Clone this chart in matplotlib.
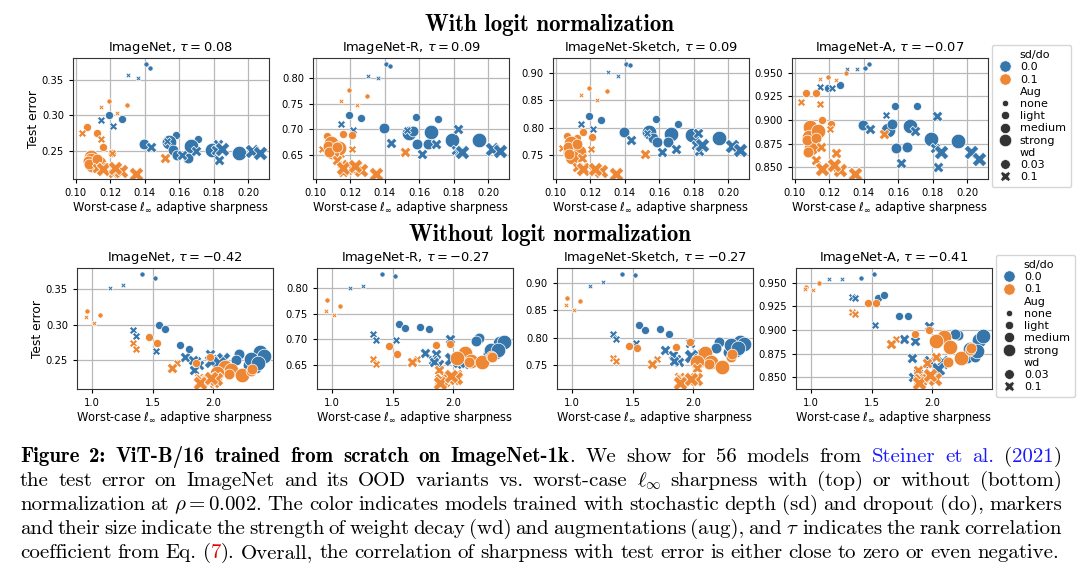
import matplotlib
matplotlib.use("Agg")
import matplotlib.pyplot as plt
from matplotlib.lines import Line2D

# one entry per model: stochastic depth/dropout, augmentation, weight decay
sd_do = ["0.0"] * 28 + ["0.1"] * 28
aug = ["none", "none", "none", "none", "light", "light", "light", "light",
       "medium", "medium", "light", "light", "strong", "medium", "medium", "strong",
       "medium", "medium", "medium", "strong", "medium", "medium", "medium", "strong",
       "strong", "strong", "strong", "light",
       "none", "none", "none", "none", "light", "light", "light", "light",
       "light", "light", "light", "medium", "strong", "strong", "strong", "strong",
       "medium", "medium", "medium", "medium", "medium", "medium", "medium", "medium",
       "strong", "strong", "strong", "strong"]
wd = [0.03, 0.03, 0.1, 0.1, 0.03, 0.03, 0.1, 0.1, 0.03, 0.1, 0.03, 0.03, 0.03, 0.03,
      0.03, 0.03, 0.03, 0.1, 0.1, 0.03, 0.1, 0.1, 0.1, 0.1, 0.03, 0.1, 0.1, 0.1,
      0.03, 0.03, 0.1, 0.1, 0.03, 0.1, 0.03, 0.1, 0.03, 0.03, 0.1, 0.1, 0.03, 0.03,
      0.03, 0.03, 0.03, 0.03, 0.03, 0.1, 0.1, 0.1, 0.1, 0.1, 0.1, 0.1, 0.1, 0.1]

# worst-case l_inf adaptive sharpness, with / without logit normalization
sharp_norm = [0.1405, 0.1430, 0.1305, 0.1360, 0.1190, 0.1265, 0.1145, 0.1218, 0.1393, 0.1436,
              0.1583, 0.1711, 0.1540, 0.1565, 0.1588, 0.1667, 0.1650, 0.1697, 0.1615, 0.1788,
              0.1825, 0.1815, 0.1830, 0.1850, 0.1950, 0.2022, 0.2070, 0.1530,
              0.1190, 0.1295, 0.1145, 0.1240, 0.1062, 0.1035, 0.1125, 0.1145, 0.1160, 0.1208,
              0.1207, 0.1520, 0.1090, 0.1085, 0.1135, 0.1095, 0.1070, 0.1075, 0.1120, 0.1150,
              0.1125, 0.1155, 0.1218, 0.1240, 0.1260, 0.1350, 0.1160, 0.1228]
sharp_raw = [1.41, 1.52, 1.26, 1.15, 1.55, 1.60, 1.34, 1.36, 2.21, 1.77,
             1.73, 1.80, 2.39, 2.19, 2.29, 2.42, 2.35, 1.86, 1.88, 2.31,
             1.97, 1.83, 1.84, 2.08, 2.37, 1.98, 2.05, 1.53,
             0.96, 1.07, 0.95, 1.02, 1.47, 1.34, 1.54, 1.36, 1.97, 1.86,
             1.70, 1.66, 2.10, 2.15, 2.03, 2.24, 2.31, 2.13, 2.32, 2.03,
             1.88, 1.93, 2.01, 1.96, 1.90, 1.89, 2.02, 1.98]

# test error per dataset
err_imagenet = [0.3725, 0.366, 0.356, 0.352, 0.300, 0.295, 0.293, 0.285, 0.2594, 0.2553,
                0.272, 0.2655, 0.262, 0.2505, 0.2434, 0.2566, 0.239, 0.2495, 0.2434, 0.2514,
                0.259, 0.251, 0.2373, 0.2515, 0.2458, 0.2497, 0.2467, 0.263,
                0.320, 0.3138, 0.3115, 0.303, 0.2833, 0.2749, 0.2753, 0.266, 0.255, 0.2458,
                0.2465, 0.239, 0.241, 0.2365, 0.233, 0.229, 0.235, 0.231, 0.238, 0.227,
                0.225, 0.222, 0.2185, 0.222, 0.2205, 0.2176, 0.2235, 0.225]
err_r = [0.8287, 0.824, 0.804, 0.8007, 0.729, 0.723, 0.710, 0.699, 0.7035, 0.674,
         0.7249, 0.721, 0.692, 0.696, 0.672, 0.694, 0.672, 0.671, 0.651, 0.680,
         0.701, 0.659, 0.656, 0.656, 0.679, 0.662, 0.658, 0.698,
         0.777, 0.766, 0.7557, 0.747, 0.686, 0.662, 0.672, 0.651, 0.690, 0.688,
         0.662, 0.655, 0.6725, 0.6575, 0.664, 0.655, 0.668, 0.655, 0.665, 0.633,
         0.640, 0.617, 0.620, 0.628, 0.620, 0.6136, 0.625, 0.628]
err_sketch = [0.917, 0.9146, 0.901, 0.8945, 0.822, 0.8137, 0.806, 0.798, 0.7925, 0.777,
              0.8155, 0.806, 0.7925, 0.780, 0.774, 0.788, 0.773, 0.760, 0.756, 0.787,
              0.790, 0.768, 0.758, 0.768, 0.780, 0.766, 0.759, 0.790,
              0.873, 0.867, 0.860, 0.850, 0.7845, 0.7625, 0.781, 0.757, 0.792, 0.782,
              0.761, 0.752, 0.771, 0.756, 0.756, 0.747, 0.765, 0.752, 0.770, 0.744,
              0.728, 0.728, 0.722, 0.723, 0.720, 0.716, 0.724, 0.724]
err_a = [0.955, 0.9595, 0.9539, 0.9539, 0.934, 0.937, 0.9345, 0.934, 0.8947, 0.890,
         0.915, 0.9147, 0.8893, 0.896, 0.8708, 0.8938, 0.871, 0.8886, 0.854, 0.8797,
         0.904, 0.870, 0.850, 0.8666, 0.8776, 0.8656, 0.8592, 0.9056,
         0.945, 0.9494, 0.9436, 0.942, 0.928, 0.9186, 0.928, 0.917, 0.900, 0.8957,
         0.890, 0.8847, 0.892, 0.882, 0.8886, 0.870, 0.879, 0.866, 0.881, 0.871,
         0.8575, 0.8497, 0.8504, 0.8653, 0.8476, 0.8434, 0.848, 0.852]

datasets = ["ImageNet", "ImageNet-R", "ImageNet-Sketch", "ImageNet-A"]
tau_norm = ["0.08", "0.09", "0.09", "-0.07"]
tau_raw = ["-0.42", "-0.27", "-0.27", "-0.41"]

colors = {"0.0": "#3776ab", "0.1": "#ee8733"}
sizes = {"none": 14, "light": 34, "medium": 60, "strong": 110}
markers = {0.03: "o", 0.1: "X"}

fig = plt.figure(figsize=(10.8, 5.78), dpi=100)

errs = [err_imagenet, err_r, err_sketch, err_a]
top_left = [0.0676, 0.2898, 0.5120, 0.7333]
bot_left = [0.0713, 0.2935, 0.5157, 0.7370]
W, H = 0.1815, 0.2093

def panel(rect, xs, ys, title, ylabel):
    ax = fig.add_axes(rect)
    for i in range(len(xs)):
        ax.scatter(xs[i], ys[i], s=sizes[aug[i]], marker=markers[wd[i]], c=colors[sd_do[i]],
                   edgecolors="white", linewidths=0.5, zorder=2)
    ax.set_axisbelow(True)
    ax.grid(True, color="#b8b8b8", lw=0.9)
    ax.set_title(title, fontsize=9.4, pad=5)
    ax.set_xlabel(r"Worst-case $\ell_\infty$ adaptive sharpness", fontsize=8.3, labelpad=0.5)
    if ylabel:
        ax.set_ylabel("Test error", fontsize=8.8, labelpad=1)
    ax.tick_params(labelsize=7.2, length=3, width=0.8)
    for sp in ax.spines.values():
        sp.set_color("#333333")
    return ax

for k in range(4):
    ax = panel([top_left[k], 0.6903, W, H], sharp_norm, errs[k],
               datasets[k] + r", $\tau = %s$" % tau_norm[k], k == 0)
    ax.set_xticks([0.10, 0.12, 0.14, 0.16, 0.18, 0.20])
    ax = panel([bot_left[k], 0.3270, W, H], sharp_raw, errs[k],
               datasets[k] + r", $\tau = %s$" % tau_raw[k], k == 0)
    ax.set_xticks([1.0, 1.5, 2.0])

# legends
def blank():
    return Line2D([], [], linestyle="none", marker="none")

def dot(color, ms, marker="o"):
    return Line2D([], [], linestyle="none", marker=marker, color=color, markersize=ms,
                  markeredgecolor="white", markeredgewidth=0.5)

handles = [blank(), dot(colors["0.0"], 8.2), dot(colors["0.1"], 8.2),
           blank(), dot("0.2", 4.6), dot("0.2", 6.0), dot("0.2", 7.4), dot("0.2", 9.0),
           blank(), dot("0.2", 7.0), dot("0.2", 7.8, "X")]
labels = ["sd/do", "0.0", "0.1", "Aug", "none", "light", "medium", "strong", "wd", "0.03", "0.1"]
for anchor in [(0.9185, 0.922), (0.9222, 0.5588)]:
    fig.legend(handles, labels, loc="upper left", bbox_to_anchor=anchor, borderaxespad=0,
               fontsize=8.0, labelspacing=0.2, handlelength=1.5, handletextpad=0.55,
               borderpad=0.45)

fig.text(0.509, 0.957, "With logit normalization", family="cmb10", fontsize=16.5,
         ha="center", va="center")
fig.text(0.509, 0.593, "Without logit normalization", family="cmb10", fontsize=16.5,
         ha="center", va="center")

# caption, justified line by line
K, B, BL, RD = "k", "bold", "blue", "red"
caption = [
    [("Figure 2: ViT-B/16 trained from scratch on ImageNet-1k", B), (". We show for 56 models from ", K),
     ("Steiner et al.", BL), (" (", K), ("2021", BL), (")", K)],
    [(r"the test error on ImageNet and its OOD variants vs. worst-case $\ell_\infty$ sharpness with (top) or without (bottom)", K)],
    [(r"normalization at $\rho=0.002$. The color indicates models trained with stochastic depth (sd) and dropout (do), markers", K)],
    [(r"and their size indicate the strength of weight decay (wd) and augmentations (aug), and $\tau$ indicates the rank correlation", K)],
    [("coefficient from Eq. (", K), ("7", RD), ("). Overall, the correlation of sharpness with test error is either close to zero or even negative.", K)],
]
line_y = [457, 481, 505, 529, 553]
x_left, x_right = 20, 1062
renderer = fig.canvas.get_renderer()

def make_text(s, style):
    return fig.text(0, 0, s, fontsize=15.0, family="cmb10" if style == B else "cmr10",
                    color={K: "black", B: "black", BL: "#1a1aff", RD: "#e00000"}[style],
                    math_fontfamily="cm", va="baseline", ha="left")

for li, segs in enumerate(caption):
    words = [[]]
    for text, style in segs:
        parts = text.split(" ")
        for j, p in enumerate(parts):
            if j > 0:
                words.append([])
            if p:
                words[-1].append(make_text(p, style))
    words = [w for w in words if w]
    widths = [sum(t.get_window_extent(renderer).width for t in w) for w in words]
    total = sum(widths)
    gap = (x_right - x_left - total) / (len(words) - 1)
    if li == len(caption) - 1:
        gap = min(gap, 6.0)
    x = x_left
    yb = 1 - (line_y[li] + 5) / 578
    for w, wdt in zip(words, widths):
        xx = x
        for t in w:
            t.set_position((xx / 1080, yb))
            xx += t.get_window_extent(renderer).width
        x += wdt + gap

fig.savefig("out.png", dpi=100)
